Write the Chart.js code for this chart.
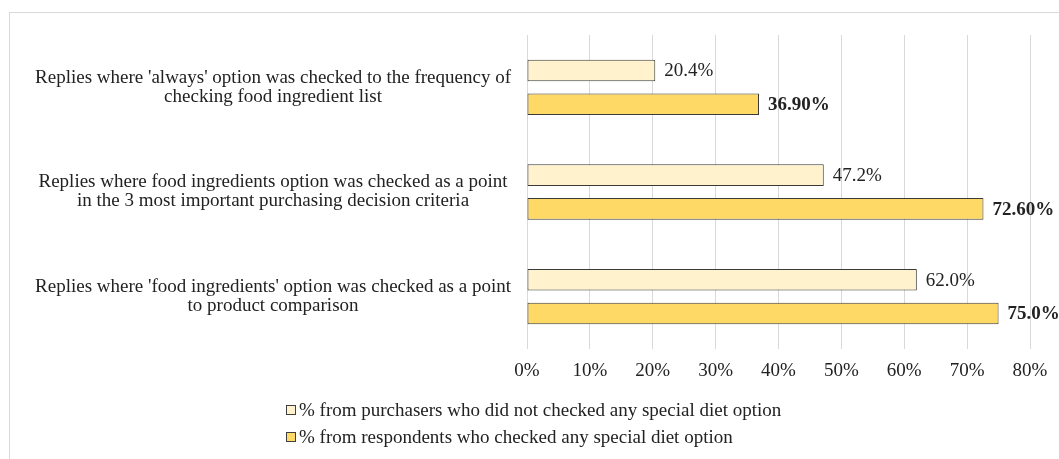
<!DOCTYPE html>
<html>
<head>
<meta charset="utf-8">
<script src="https://cdn.jsdelivr.net/npm/chart.js@4/dist/chart.umd.min.js"></script>
<style>
  html, body { margin: 0; padding: 0; background: #ffffff; }
  #wrap { position: relative; width: 1059px; height: 459px; }
  #frame { position: absolute; left: 9px; top: 12px; width: 1100px; height: 500px; border: 1px solid #d9d9d9; box-sizing: border-box; pointer-events: none; }
  canvas { position: absolute; left: 0; top: 0; }
</style>
</head>
<body>
<div id="wrap">
  <div id="frame"></div>
  <canvas id="c" width="1059" height="459"></canvas>
</div>
<script>
// ---- data ----
const categories = [
  ["Replies where 'always' option was checked to the frequency of", "checking food ingredient list"],
  ["Replies where food ingredients option was checked as a point", "in the 3 most important purchasing decision criteria"],
  ["Replies where 'food ingredients' option was checked as a point", "to product comparison"]
];
const seriesNames = [
  "% from purchasers who did not checked any special diet option",
  "% from respondents who checked any special diet option"
];
const nonDietValues = [20.4, 47.2, 62.0];
const dietValues = [36.9, 72.6, 75.0];
const nonDietLabels = ["20.4%", "47.2%", "62.0%"];
const dietLabels = ["36.90%", "72.60%", "75.0%"];
const tickValues = [0, 10, 20, 30, 40, 50, 60, 70, 80];

const SERIF = "'Liberation Serif', 'Times New Roman', serif";
const TEXT = '#222222';

const valueLabelPlugin = {
  id: 'valueLabels',
  afterDatasetsDraw(chart) {
    const ctx = chart.ctx;
    const labelSets = [nonDietLabels, dietLabels];
    chart.data.datasets.forEach((ds, di) => {
      const meta = chart.getDatasetMeta(di);
      meta.data.forEach((bar, i) => {
        ctx.save();
        ctx.font = (di === 1 ? 'bold ' : '') + '19px ' + SERIF;
        ctx.fillStyle = TEXT;
        ctx.textAlign = 'left';
        ctx.textBaseline = 'middle';
        ctx.fillText(labelSets[di][i], bar.x + 9, bar.y + 1);
        ctx.restore();
      });
    });
  }
};

const legendPlugin = {
  id: 'stackedLegend',
  afterDraw(chart) {
    const ctx = chart.ctx;
    const rowsY = [410, 437];
    chart.data.datasets.forEach((ds, di) => {
      const y = rowsY[di];
      ctx.save();
      ctx.fillStyle = ds.backgroundColor;
      ctx.strokeStyle = '#404040';
      ctx.lineWidth = 1;
      ctx.fillRect(286.5, y - 4.5, 9, 9);
      ctx.strokeRect(286.5, y - 4.5, 9, 9);
      ctx.font = '19px ' + SERIF;
      ctx.fillStyle = TEXT;
      ctx.textAlign = 'left';
      ctx.textBaseline = 'middle';
      ctx.fillText(ds.label, 299, y + 1);
      ctx.restore();
    });
  }
};

new Chart(document.getElementById('c'), {
  type: 'bar',
  data: {
    labels: categories,
    datasets: [
      {
        label: seriesNames[0],
        data: nonDietValues,
        backgroundColor: '#FFF2CC',
        borderColor: '#3a3a3a',
        borderWidth: 1,
        borderSkipped: false,
        categoryPercentage: 0.645,
        barPercentage: 0.64
      },
      {
        label: seriesNames[1],
        data: dietValues,
        backgroundColor: '#FFD966',
        borderColor: '#3a3a3a',
        borderWidth: 1,
        borderSkipped: false,
        categoryPercentage: 0.645,
        barPercentage: 0.64
      }
    ]
  },
  options: {
    indexAxis: 'y',
    responsive: false,
    animation: false,
    devicePixelRatio: 1,
    layout: { padding: { left: 14, right: 29, top: 30, bottom: 74 } },
    plugins: {
      legend: { display: false },
      tooltip: { enabled: false }
    },
    scales: {
      x: {
        min: 0,
        max: 80,
        afterBuildTicks(scale) { scale.ticks = tickValues.map(v => ({ value: v })); },
        afterFit(scale) { scale.height = 36; },
        grid: { color: '#d9d9d9', drawTicks: false, lineWidth: 1 },
        border: { display: false },
        ticks: {
          padding: 11,
          color: TEXT,
          font: { family: SERIF, size: 19 },
          maxRotation: 0,
          callback: v => v + '%'
        }
      },
      y: {
        afterFit(scale) { scale.width = 527 - 14; },
        grid: { display: false, drawTicks: false },
        border: { display: false },
        ticks: {
          crossAlign: 'center',
          padding: 16,
          color: TEXT,
          font: { family: SERIF, size: 19, lineHeight: 1.0 }
        }
      }
    }
  },
  plugins: [valueLabelPlugin, legendPlugin]
});
</script>
</body>
</html>
